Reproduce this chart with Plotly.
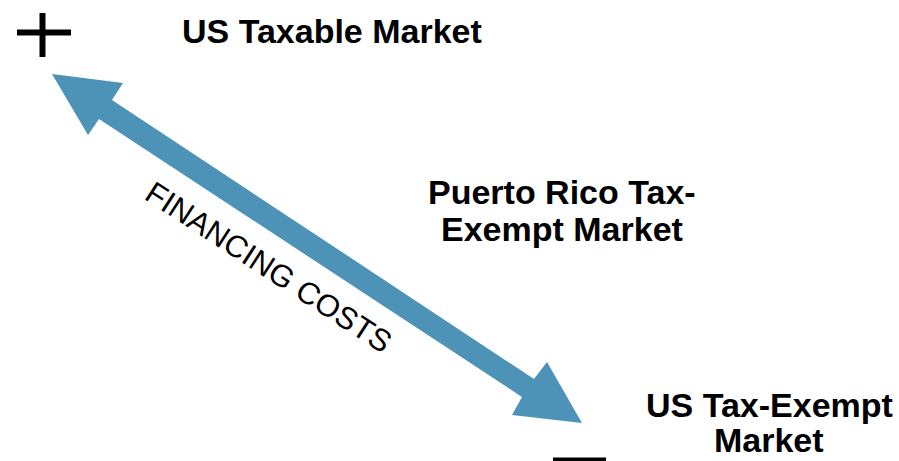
import plotly.graph_objects as go

# ---- content ----
market_labels = [["US Taxable Market"],
                 ["Puerto Rico Tax-", "Exempt Market"],
                 ["US Tax-Exempt", "Market"]]
axis_label = "FINANCING COSTS"

# ---- layout spec (pixel coordinates of the 899x461 canvas) ----
W, H = 899, 461
label_anchor = [(180, "left"), (562, "center"), (769, "center")]
label_line_y = [[30.5], [192, 229], [405, 440]]
arrow_pts = [(52, 74), (123, 83), (112, 100), (534, 379), (547, 362), (582, 423),
             (512, 415), (522, 397), (99, 119), (88, 135)]
arrow_color = "#4D93B7"
font_family = "Liberation Sans, Arial, sans-serif"

fig = go.Figure()

# double-headed arrow
path = "M " + " L ".join(f"{x},{y}" for x, y in arrow_pts) + " Z"
fig.add_shape(type="path", path=path, xref="x", yref="y",
              fillcolor=arrow_color, line=dict(width=0))

# plus sign
fig.add_shape(type="rect", x0=17, x1=71, y0=29.5, y1=35.5, xref="x", yref="y",
              fillcolor="black", line=dict(width=0))
fig.add_shape(type="rect", x0=39.5, x1=45.5, y0=13, y1=57, xref="x", yref="y",
              fillcolor="black", line=dict(width=0))
# minus sign
fig.add_shape(type="rect", x0=553, x1=606, y0=457.5, y1=463, xref="x", yref="y",
              fillcolor="black", line=dict(width=0))

for lines, (x, anchor), ys in zip(market_labels, label_anchor, label_line_y):
    for text, y in zip(lines, ys):
        fig.add_annotation(x=x, y=y, xref="x", yref="y", text=f"<b>{text}</b>",
                           showarrow=False, xanchor=anchor, yanchor="middle",
                           font=dict(family=font_family, size=34, color="black"))

fig.add_annotation(x=269, y=267, xref="x", yref="y", text=axis_label, showarrow=False,
                   textangle=33, xanchor="center", yanchor="middle",
                   font=dict(family=font_family, size=31, color="black"))

fig.update_layout(
    width=W, height=H, margin=dict(l=0, r=0, t=0, b=0),
    paper_bgcolor="white", plot_bgcolor="white", showlegend=False,
    xaxis=dict(range=[0, W], visible=False, fixedrange=True),
    yaxis=dict(range=[H, 0], visible=False, fixedrange=True),
)

fig.write_html("out.html", config={"displayModeBar": False},
               post_script="document.body.style.margin='0';document.body.style.overflow='hidden';")
